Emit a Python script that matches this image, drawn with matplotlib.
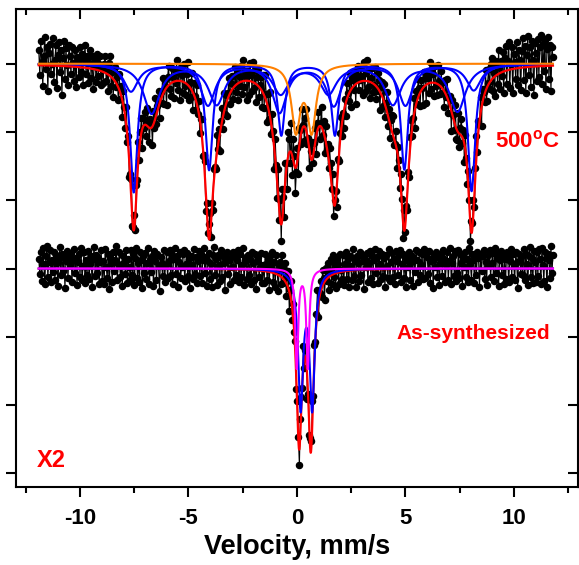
import numpy as np
import matplotlib.pyplot as plt

plt.rcParams['font.family'] = 'Liberation Sans'
plt.rcParams['mathtext.fontset'] = 'custom'
plt.rcParams['mathtext.rm'] = 'Liberation Sans'
plt.rcParams['mathtext.bf'] = 'Liberation Sans:bold'
plt.rcParams['axes.unicode_minus'] = False

# velocity channels (mm/s)
V_START, V_END, N_CH = -11.9, 11.8, 512

# baselines of the two spectra (y unit = one tick)
BASE_TOP = 3.0
BASE_BOT = 0.0

# --- 500 C spectrum: fit components (position, depth, half width) ---
S1_POS = [-7.52, -4.05, -0.72, 1.75, 4.95, 8.05]      # sharp sextet (blue)
S1_DEPTH = [1.88, 1.55, 1.04, 1.04, 1.54, 1.86]
S1_HW = 0.20
S2_POS = [-6.70, -3.70, -0.75, 1.45, 4.42, 7.40]      # broad sextet (blue)
S2_DEPTH = [0.72, 0.58, 0.42, 0.42, 0.58, 0.69]
S2_HW = 0.45
S3_POS = [-7.65, -4.10, -0.80, 1.70, 5.00, 8.15]      # third sextet (blue)
S3_DEPTH = [0.40, 0.60, 0.70, 0.60, 0.60, 0.38]
S3_HW = 0.40
D1_POS = [-0.05, 0.68]                                # doublet (orange)
D1_DEPTH = [0.95, 0.95]
D1_HW = 0.24

# --- As-synthesized spectrum: fit curves ---
BR_POS, BR_DEPTH, BR_HW = [0.10, 0.64], [2.45, 2.50], 0.16    # total (red)
BB_POS, BB_DEPTH, BB_HW = [0.17, 0.70], [1.98, 1.98], 0.14    # blue doublet
BM_POS, BM_DEPTH, BM_HW = [-0.01, 0.50], [1.44, 1.44], 0.08   # magenta doublet

# measured points: deviation from the total fit, in 0.01 units
RES_TOP = [
    22, -14, 36, 5, -30, 14, 41, -6, 27, -38, 19, 31, -12, 3, 40, -24,
    9, 30, -33, 16, 35, -9, 23, -42, 12, 37, -19, 26, 2, -27, 31, 15,
    -11, 28, 6, -21, 24, -30, 15, 9, -15, 29, -7, 20, -25, 12, 33, -9,
    17, -22, 8, 27, -13, 19, -29, 5, 14, -18, 24, -8, 10, 21, -20, 4,
    -16, 12, 25, -11, 6, -24, 18, 29, -14, 8, -27, 16, 22, -6, 12, -18,
    23, -9, 14, -25, 20, 5, -15, 27, -10, 17, -22, 9, 31, -12, 4, 19,
    -23, 15, -6, 26, -18, 10, 21, -29, 12, -4, 18, -16, 27, 6, -20, 14,
    8, -27, 19, -10, 29, -14, 6, 24, -21, 12, -8, 25, -17, 16, 3, -26,
    13, 28, -7, -19, 22, 7, -24, 17, -3, 30, -13, 11, -28, 20, 9, -16,
    26, -5, -18, 14, 33, -21, 8, -12, 25, -26, 16, 2, -14, 28, -9, 18,
    -20, 11, 24, -15, 6, 19, -27, 13, -6, 22, 35, -17, 10, -23, 18, 5,
    -12, 27, -4, 16, -25, 9, 21, -18, 29, -8, 14, -22, 7, 26, -15, 12,
    20, -16, 3, 28, -11, 17, -24, 10, -5, 23, -19, 31, -9, 14, 6, -28,
    15, -21, 26, 9, -13, 30, -7, 19, -26, 11, 24, -14, 4, 18, -23, 27,
    -18, 33, 10, -26, 21, -9, 38, -15, 25, 12, -31, 28, 8, -22, 41, -13,
    30, -25, 44, 16, -34, 26, 9, -40, 35, 20, -17, 43, -28, 32, 14, -36,
    -8, 19, -31, 24, 11, -17, 28, 2, -22, 15, 32, -11, 7, -26, 20, 13,
    25, -13, 6, 18, -28, 10, 23, -19, 4, 29, -9, 16, -24, 21, -5, 11,
    -14, 26, 17, -7, 30, -20, 9, 14, -27, 22, -3, 19, 27, -15, 8, -23,
    12, -18, 24, 5, -10, 28, -25, 16, 10, -6, 21, -29, 13, 25, -12, 3,
    19, 7, -21, 27, -16, 11, 31, -8, 18, -24, 6, 22, -13, -2, 26, -19,
    -6, 23, 14, -27, 9, 20, -11, 25, -18, 7, 29, -15, 16, -21, 12, 24,
    28, -10, -3, 21, -26, 15, 7, -17, 24, 11, -23, 30, -7, 13, -19, 9,
    -22, 17, 26, -12, 4, 23, -28, 19, -5, 27, 10, -20, 15, 2, -25, 21,
    11, -26, 18, 8, -14, 31, -9, 22, 13, -19, 25, -4, -16, 28, 6, -12,
    24, -7, 12, -23, 19, -2, 27, -18, 9, 16, -29, 21, 5, -11, 30, -15,
    -13, 29, -20, 10, 25, -8, 15, -26, 22, 3, -17, 26, 11, -24, 17, 7,
    18, -22, 6, 28, -15, 13, -6, 24, -27, 20, 8, -12, 31, -19, 4, 23,
    -9, 25, 32, -18, 7, -28, 21, 12, -14, 35, -23, 17, -6, 29, -31, 19,
    36, -20, 14, 41, -27, 8, 33, -35, 22, 10, -16, 39, -24, 27, 12, -33,
    25, 43, -18, 31, -38, 18, 45, -12, 29, -30, 37, 9, -41, 34, 20, -22,
    40, -15, 28, 46, -26, 33, -8, 38, -34, 24, 42, -19, 30, -37, 27, 12,
]
RES_BOT = [
    14, -8, 25, -18, 30, 6, -22, 18, 33, -12, 9, 27, -20, 12, -5, 24,
    -16, 20, 8, -25, 15, 31, -10, 22, -3, 17, -28, 11, 26, -14, 19, 5,
    23, -19, 12, 28, -7, 16, -24, 9, 21, -12, 30, -17, 4, 25, -21, 13,
    -9, 26, -15, 7, 19, -27, 14, 32, -11, 20, -6, 15, -23, 10, 27, -18,
    11, -22, 29, 3, -14, 22, -30, 16, 8, -19, 25, -4, 13, 33, -16, 7,
    24, -12, 6, -26, 18, 10, -8, 27, -21, 14, 2, -17, 28, -10, 21, -24,
    16, 30, -13, 9, -20, 25, 12, -29, 18, -6, 23, -15, 8, 31, -22, 13,
    -5, 19, -25, 26, 11, -16, 22, 4, -32, 17, 9, -11, 27, -19, 6, 24,
    -14, 12, 28, -9, 20, -23, 15, 31, -7, 18, -26, 10, 24, -13, 3, 21,
    27, -18, 7, 23, -11, 15, -28, 19, 5, -15, 29, -8, 17, -21, 12, 26,
    -10, 22, -20, 13, 30, -6, 18, -25, 11, 24, -14, 8, -27, 20, 32, -9,
    15, -24, 21, 6, -17, 28, -12, 19, 9, -30, 16, 25, -7, 13, -22, 18,
    4, 26, -16, 20, -8, 14, 29, -19, 23, -11, 7, 31, -23, 12, 18, -13,
    22, -7, 16, -21, 27, 10, -15, 24, -28, 13, 20, -10, 6, 26, -18, 9,
    -17, 25, 11, -12, 19, -26, 23, 7, 30, -14, 17, -20, 28, 5, -24, 15,
    21, -11, 34, -6, 16, 27, -19, 12, 25, -29, 9, 30, -16, 22, 2, 18,
    -12, 17, 6, -23, 21, 13, -9, 28, -16, 10, 24, -27, 15, -4, 20, 8,
    26, -15, 19, -8, 11, 30, -21, 5, 17, -12, 23, 9, -26, 18, -3, 22,
    -19, 8, 24, -13, 29, -5, 14, -22, 20, 12, -17, 27, 3, -10, 25, -20,
    10, 28, -11, 18, -24, 22, 6, -14, 31, -8, 15, -25, 21, 11, -16, 26,
    -7, 20, 13, -28, 16, 4, 25, -18, 9, 27, -12, 19, -21, 14, 30, -6,
    18, -20, 27, 8, -15, 23, -10, 16, -26, 21, 5, -13, 29, -17, 11, 24,
    -11, 15, -22, 26, 12, -9, 20, 28, -19, 7, 22, -14, 17, -27, 13, 3,
    25, -16, 10, 19, -25, 14, -4, 27, 13, -20, 24, -9, 6, 21, -15, 29,
    -13, 23, 18, -7, 26, -21, 11, 15, -28, 20, 2, 25, -12, 17, -24, 9,
    20, -10, 28, 14, -19, 6, 24, -16, 12, 30, -23, 8, 19, -11, 26, -18,
    -6, 27, -14, 21, 9, -26, 17, 3, 25, -12, 14, -20, 31, 7, -17, 22,
    13, -21, 19, -9, 24, 16, -27, 22, -3, 18, 28, -15, 10, -24, 20, 6,
    27, -12, 8, 23, -18, 30, -6, 15, 21, -25, 12, 26, -10, 19, -22, 14,
    -15, 24, 16, -20, 11, 28, -13, 22, 5, -17, 25, 9, -28, 21, 13, -8,
    19, -9, 29, -16, 22, 7, -24, 18, 32, -13, 15, -21, 26, 10, -19, 24,
    -11, 28, 14, -22, 30, 5, -18, 25, 16, -27, 21, 12, -14, 33, -6, 20,
]


def lorentz(v, pos, depth, hw):
    out = np.zeros_like(v)
    for p, d in zip(pos, depth):
        out -= d / (1 + ((v - p) / hw) ** 2)
    return out


v = np.linspace(V_START, V_END, N_CH)
vf = np.linspace(V_START, V_END, 3000)

top_parts = [(S1_POS, S1_DEPTH, S1_HW), (S2_POS, S2_DEPTH, S2_HW),
             (S3_POS, S3_DEPTH, S3_HW), (D1_POS, D1_DEPTH, D1_HW)]


def top_total(x):
    return BASE_TOP + sum(lorentz(x, *p) for p in top_parts)


top_pts = top_total(v) + np.array(RES_TOP) / 100
bot_pts = BASE_BOT + lorentz(v, BR_POS, BR_DEPTH, BR_HW) + np.array(RES_BOT) / 100

fig = plt.figure(figsize=(5.79, 5.65), dpi=100)
ax = fig.add_axes([0.0276, 0.138, 0.9705, 0.846])

pt_style = dict(color='k', lw=0.8, marker='o', ms=4.4, mfc='k', mec='k')
ax.plot(v, top_pts, **pt_style)
ax.plot(v, bot_pts, **pt_style)

# top fit
for p in top_parts[:3]:
    ax.plot(vf, BASE_TOP + lorentz(vf, *p), color='#0000ff', lw=1.5)
ax.plot(vf, top_total(vf), color='#ff0000', lw=1.6)
ax.plot(vf, BASE_TOP + lorentz(vf, *top_parts[3]), color='#ff8000', lw=1.5)

# bottom fit
ax.plot(vf, BASE_BOT + lorentz(vf, BR_POS, BR_DEPTH, BR_HW), color='#ff0000', lw=1.6)
ax.plot(vf, BASE_BOT + lorentz(vf, BB_POS, BB_DEPTH, BB_HW), color='#0000ff', lw=1.5)
ax.plot(vf, BASE_BOT + lorentz(vf, BM_POS, BM_DEPTH, BM_HW), color='#ff00ff', lw=1.5)

ax.set_xlim(-12.95, 12.95)
ax.set_ylim(-3.2, 3.8)
ax.set_xticks([-10, -5, 0, 5, 10])
ax.set_xticks([-12.5, -7.5, -2.5, 2.5, 7.5, 12.5], minor=True)
ax.set_yticks([-3, -2, -1, 0, 1, 2, 3])
ax.set_yticklabels([])
ax.tick_params(axis='both', which='major', direction='out', length=7, width=1.5,
               labelsize=16)
ax.tick_params(axis='x', which='major', pad=8)
ax.tick_params(axis='x', which='minor', direction='out', length=4, width=1.5)
for lab in ax.get_xticklabels():
    lab.set_fontweight('bold')
for s in ax.spines.values():
    s.set_linewidth(1.5)

# inward ticks on top and right
sx = ax.secondary_xaxis('top')
sx.set_xticks([-10, -5, 0, 5, 10])
sx.set_xticks([-12.5, -7.5, -2.5, 2.5, 7.5, 12.5], minor=True)
sx.tick_params(which='major', direction='in', length=7, width=1.5, labeltop=False)
sx.tick_params(which='minor', direction='in', length=4, width=1.5)
sy = ax.secondary_yaxis('right')
sy.set_yticks([-3, -2, -1, 0, 1, 2, 3])
sy.tick_params(direction='in', length=7, width=1.5, labelright=False)

ax.set_xlabel('Velocity, mm/s', fontsize=19.5, fontweight='bold', labelpad=4)

ax.text(12.1, 1.77, r'500$^{\mathbf{o}}$C', color='#ff0000', fontsize=16,
        fontweight='bold', ha='right', va='baseline')
ax.text(11.66, -0.95, 'As-synthesized', color='#ff0000', fontsize=15,
        fontweight='bold', ha='right', va='center')
ax.text(-11.98, -2.91, 'X2', color='#ff0000', fontsize=17,
        fontweight='bold', ha='left', va='baseline')

fig.savefig('out.png', dpi=100)
